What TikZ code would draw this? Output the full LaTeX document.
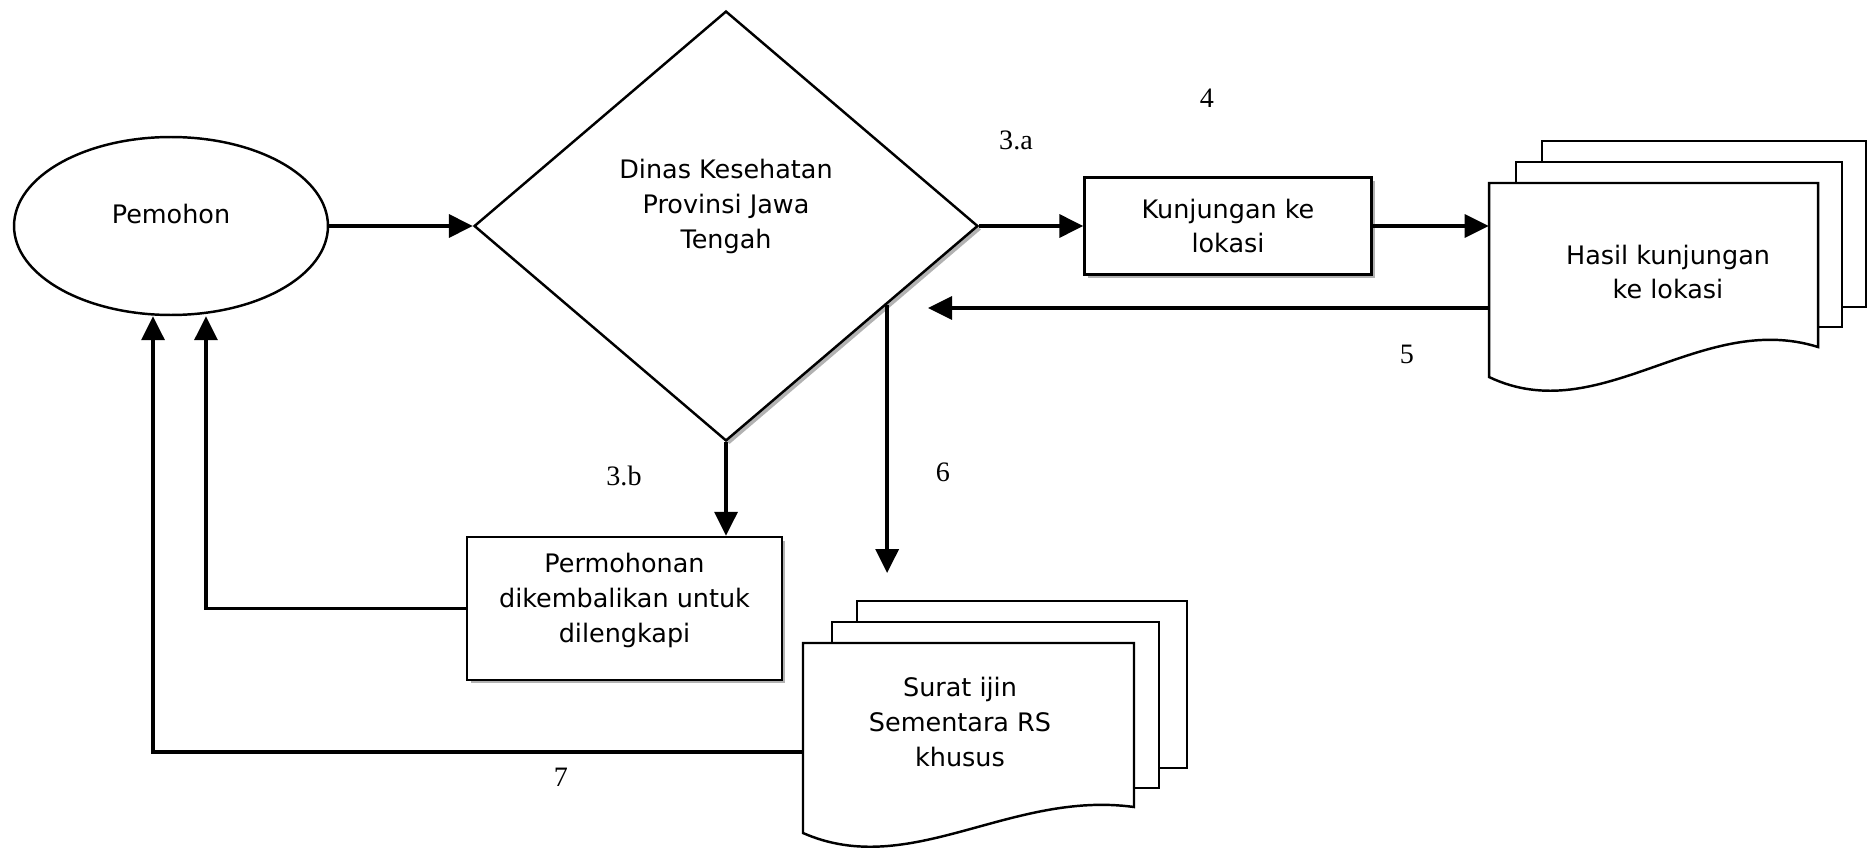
\documentclass[tikz,border=0pt]{standalone}
\usepackage{fontspec}
\setmainfont{DejaVu Sans}
\newfontfamily\numfont{Liberation Serif}
\usepackage{tikz}
\usetikzlibrary{shapes.geometric, arrows.meta, positioning, shadows}

\begin{document}
\begin{tikzpicture}[
        x=0.02cm, y=-0.02cm,
        font=\fontsize{14.5}{19.9}\selectfont,
        box/.style={rectangle, draw=black, line width=1.4pt, align=center, fill=white, drop shadow={shadow xshift=0.07cm, shadow yshift=-0.07cm, fill=gray!60, opacity=1}},
        actor/.style={ellipse, draw=black, line width=1.4pt, inner sep=0pt, minimum width=6.28cm, minimum height=3.56cm, text depth=0.47cm},
        decision/.style={diamond, draw=black, line width=1.4pt, inner sep=0pt, align=center, fill=white, minimum width=10.08cm, minimum height=8.6cm, text depth=0.9cm, drop shadow={shadow xshift=0.07cm, shadow yshift=-0.07cm, fill=gray!60, opacity=1}},
        page/.style={draw=black, line width=1.4pt, fill=white},
        doctext/.style={rectangle, align=center, inner sep=0pt},
        arrow/.style={-{Triangle[length=0.48cm, width=0.46cm]}, line width=2pt},
        num/.style={font=\numfont\fontsize{16}{19}\selectfont}
    ]
    \useasboundingbox (0,0) rectangle (1869,848);

    % Nodes
    \node[actor] (pemohon) at (171,226) {Pemohon};

    \node[decision] (dinas) at (726,226) {Dinas Kesehatan\\Provinsi Jawa\\Tengah};

    \node[box, minimum width=5.74cm, minimum height=1.94cm] (kunjungan) at (1228,226) {Kunjungan ke\\lokasi};

    \node[box, minimum width=6.3cm, minimum height=2.86cm, text depth=0.44cm] (permohonan) at (624.5,608.5) {Permohonan\\dikembalikan untuk\\dilengkapi};

    % Document stacks
    \draw[page] (1542,141) rectangle (1866,307);
    \draw[page] (1516,162) rectangle (1842,327);
    \draw[page] (1489,183) -- (1818,183) -- (1818,347)
        .. controls (1700,310) and (1600,430) .. (1489,377) -- cycle;
    \node[doctext, minimum width=7.16cm] (hasil) at (1668,272) {Hasil kunjungan\\ke lokasi};

    \draw[page] (857,601) rectangle (1187,768);
    \draw[page] (832,622) rectangle (1159,788);
    \draw[page] (803,643) -- (1134,643) -- (1134,807)
        .. controls (1010,790) and (910,880) .. (803,833) -- cycle;
    \node[doctext, minimum width=6.28cm] (surat) at (960,722) {Surat ijin\\Sementara RS\\khusus};

    % Labels
    \node[num] (lbl3a) at (1016,140) {3.a};
    \node[num] (lbl4) at (1207,98) {4};
    \node[num] (lbl5) at (1407,354) {5};
    \node[num] (lbl6) at (943,472) {6};
    \node[num] (lbl3b) at (624,476) {3.b};
    \node[num] (lbl7) at (561,777) {7};

    % Arrows
    \coordinate (limaend) at (928,308);
    \coordinate (enamend) at (887,573);
    \draw[arrow] (pemohon.east) -- (dinas.west);
    \draw[arrow] (dinas.east) -- (kunjungan.west);
    \draw[arrow] (kunjungan.east) -- (kunjungan.east -| hasil.west);
    \draw[arrow] (limaend -| hasil.west) -- (limaend);
    \draw[arrow] (dinas.-26) -- (dinas.-26 |- enamend);
    \draw[arrow] (dinas.south) -- (dinas.south |- permohonan.north);
    \draw[arrow] (permohonan.west) -| ([xshift=0.7cm]pemohon.south);
    \draw[arrow] ([yshift=-0.6cm]surat.west) -| ([xshift=-0.36cm]pemohon.south);

\end{tikzpicture}
\end{document}
